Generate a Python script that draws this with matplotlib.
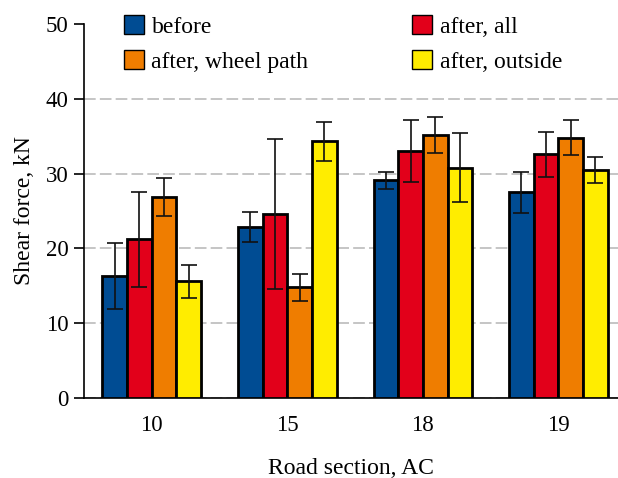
import numpy as np
import matplotlib
matplotlib.use("Agg")
import matplotlib.pyplot as plt
from matplotlib.patches import Patch
import matplotlib.patheffects as pe

plt.rcParams['font.family'] = ['Liberation Serif', 'DejaVu Serif']

sections = ['10', '15', '18', '19']
series = ['before', 'after, all', 'after, wheel path', 'after, outside']
colors = ['#004c93', '#e2001a', '#ef7d00', '#ffed00']

before = [16.3, 22.9, 29.1, 27.5]
before_err = [4.4, 2.0, 1.1, 2.7]
after_all = [21.2, 24.6, 33.0, 32.6]
after_all_err = [6.4, 10.0, 4.1, 3.0]
after_wheel = [26.9, 14.8, 35.2, 34.8]
after_wheel_err = [2.5, 1.8, 2.4, 2.35]
after_out = [15.6, 34.3, 30.8, 30.5]
after_out_err = [2.2, 2.6, 4.6, 1.75]

values = [before, after_all, after_wheel, after_out]
errors = [before_err, after_all_err, after_wheel_err, after_out_err]

fig = plt.figure(figsize=(6.18, 4.78), dpi=100)
ax = fig.add_axes([0.136, 0.167, 0.864, 0.783])

x = np.arange(len(sections))
w = 0.182
for i in range(4):
    ax.bar(x + (i - 1.5) * w, values[i], w, yerr=errors[i], color=colors[i],
           edgecolor='black', linewidth=2.0, capsize=6,
           error_kw=dict(elinewidth=1.2, capthick=1.2, ecolor='#111111'),
           zorder=3,
           path_effects=[pe.SimplePatchShadow(offset=(1, -1.5), shadow_rgbFace='grey', alpha=0.4), pe.Normal()])

ax.set_xlim(-0.5, 3.44)
ax.set_ylim(0, 50)
ax.set_yticks([0, 10, 20, 30, 40, 50])
ax.set_xticks(x)
ax.set_xticklabels(sections)
ax.yaxis.grid(True, color='#bbbbbb', linestyle=(0, (7, 2.5)), linewidth=1.2, zorder=0)
ax.get_ygridlines()[-1].set_visible(False)
ax.set_axisbelow(True)

for s in ['top', 'right']:
    ax.spines[s].set_visible(False)
ax.spines['left'].set_linewidth(1.2)
ax.spines['bottom'].set_linewidth(1.2)
ax.tick_params(axis='y', length=7, width=1.2, pad=4, labelsize=16.5)
ax.tick_params(axis='x', length=0, pad=12, labelsize=16.5)

ax.set_ylabel('Shear force, kN', fontsize=17, labelpad=8)
ax.set_xlabel('Road section, AC', fontsize=17, labelpad=16)

handles = [Patch(facecolor=colors[i], edgecolor='black', linewidth=1.0, label=series[i]) for i in [0, 2, 1, 3]]
ax.legend(handles=handles, ncol=2, loc='upper left', bbox_to_anchor=(0.075, 1.024),
          frameon=False, fontsize=17, handlelength=0.85, handleheight=0.85,
          handletextpad=0.31, columnspacing=4.4, labelspacing=0.55,
          borderpad=0, borderaxespad=0)

fig.savefig('out.png', dpi=100)
